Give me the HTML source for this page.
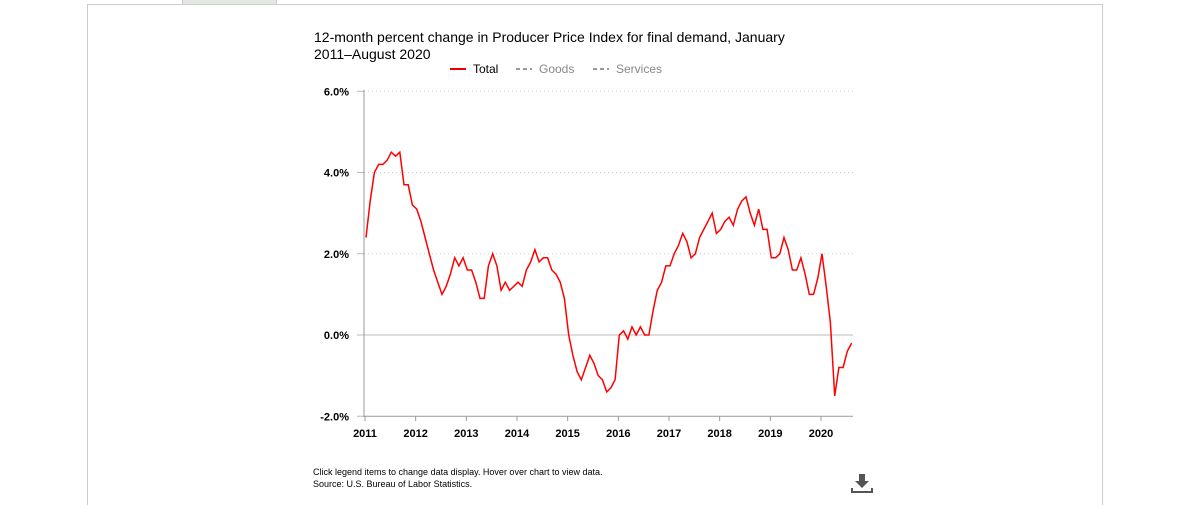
<!DOCTYPE html>
<html><head><meta charset="utf-8"><style>
body{margin:0;width:1192px;height:497px;background:#fff;font-family:"Liberation Sans",Arial,sans-serif;overflow:hidden;position:relative}
.frame{position:absolute;left:87px;top:4px;width:1014px;height:500px;border-left:1px solid #ccc;border-right:1px solid #ccc;border-top:1px solid #ccc}
.tab{position:absolute;left:182px;top:0;width:93px;height:4px;background:#e4e8e2;border:1px solid #ccc;border-top:none}
.title{position:absolute;left:314px;top:29px;font-size:14px;line-height:17px;color:#000}
.note{position:absolute;left:313px;top:466px;font-size:9px;line-height:12px;color:#000}
</style></head><body>
<div class="frame"></div>
<div class="tab"></div>
<div class="title">12-month percent change in Producer Price Index for final demand, January<br>2011–August 2020</div>
<svg id="c" width="1192" height="497" style="position:absolute;left:0;top:0"></svg>
<div class="note">Click legend items to change data display. Hover over chart to view data.<br>Source: U.S. Bureau of Labor Statistics.</div>
<svg style="position:absolute;left:850px;top:472px" width="24" height="22"><path d="M9 2h6v7h4l-7 7-7-7h4z" fill="#555"/><path d="M2 16v4h20v-4" stroke="#555" stroke-width="2" fill="none"/></svg>
<script>
const years=["2011","2012","2013","2014","2015","2016","2017","2018","2019","2020"];
const yTicks=[6,4,2,0,-2];
const totalValues=[2.4,3.3,4.0,4.2,4.2,4.3,4.5,4.4,4.5,3.7,3.7,3.2,
3.1,2.8,2.4,2.0,1.6,1.3,1.0,1.2,1.5,1.9,1.7,1.9,
1.6,1.6,1.3,0.9,0.9,1.7,2.0,1.7,1.1,1.3,1.1,1.2,
1.3,1.2,1.6,1.8,2.1,1.8,1.9,1.9,1.6,1.5,1.3,0.9,
0.0,-0.5,-0.9,-1.1,-0.8,-0.5,-0.7,-1.0,-1.1,-1.4,-1.3,-1.1,
0.0,0.1,-0.1,0.2,0.0,0.2,0.0,0.0,0.6,1.1,1.3,1.7,
1.7,2.0,2.2,2.5,2.3,1.9,2.0,2.4,2.6,2.8,3.0,2.5,
2.6,2.8,2.9,2.7,3.1,3.3,3.4,3.0,2.7,3.1,2.6,2.6,
1.9,1.9,2.0,2.4,2.1,1.6,1.6,1.9,1.5,1.0,1.0,1.4,
2.0,1.2,0.3,-1.5,-0.8,-0.8,-0.4,-0.2];
const svg=document.getElementById('c');const NS='http://www.w3.org/2000/svg';
const X0=366,MW=(821-365)/108,Y=v=>335-v*40.625;
const xm=i=>X0+i*MW;
function el(t,a,txt){const e=document.createElementNS(NS,t);for(const k in a)e.setAttribute(k,a[k]);if(txt!==undefined)e.textContent=txt;svg.appendChild(e);return e;}
yTicks.forEach(v=>{
 const g=el('line',{x1:v===0?364:364,x2:853,y1:Y(v),y2:Y(v),stroke:v===0?'#bbb':'#ccc','stroke-dasharray':v===0||v===-2?'':'1,3'});
 
 
 if(v===-2)g.setAttribute('stroke','#999');
 const tk=el('line',{x1:357,x2:364,y1:Y(v),y2:Y(v),stroke:'#bbb'});
 
 
 const t=el('text',{x:349,y:Y(v)+4,'text-anchor':'end','font-size':11,'font-weight':'bold',fill:'#000'},v.toFixed(1)+'%');
 
 
});
const ax=el('line',{x1:364,x2:364,y1:90,y2:417,stroke:'#999'});


years.forEach((y,i)=>{
 const x=X0+i*12*MW-1;
 const tk=el('line',{x1:x,x2:x,y1:416,y2:421,stroke:'#999'});
 
 
 const t=el('text',{x:x,y:437,'text-anchor':'middle','font-size':11,'font-weight':'bold',fill:'#000'},y);
 
 
});
const p=el('polyline',{points:totalValues.map((v,i)=>xm(i).toFixed(1)+','+Y(v).toFixed(1)).join(' '),fill:'none',stroke:'#f00','stroke-width':1.5});


const leg=[['Total',450,'#e00','','#000',473],['Goods',516,'#999','4,3','#888',539],['Services',593,'#999','4,3','#888',616]];
leg.forEach(l=>{
 const ln=el('line',{x1:l[1],x2:l[1]+16,y1:69,y2:69,stroke:l[2],'stroke-width':2,'stroke-dasharray':l[3]});
 
 
 const t=el('text',{x:l[5],y:73,'font-size':12,fill:l[4]},l[0]);
 
 
});
</script>
</body></html>
